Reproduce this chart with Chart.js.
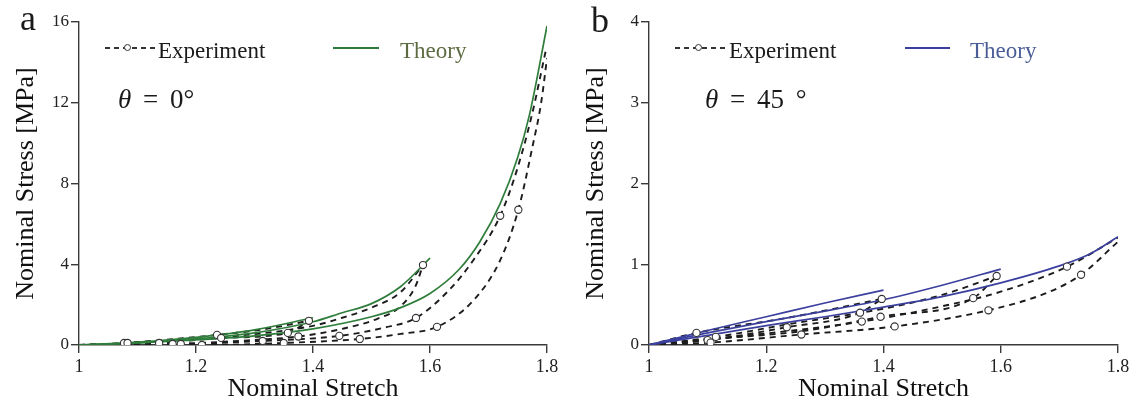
<!DOCTYPE html>
<html>
<head>
<meta charset="utf-8">
<script src="https://cdn.jsdelivr.net/npm/chart.js"></script>
<style>
  body { margin: 0; background: #fff; width: 1139px; height: 403px; overflow: hidden; position: relative; font-family: "Liberation Serif", "Times New Roman", serif; color: #1a1a1a; }
  .panel { position: absolute; top: 0; height: 403px; }
  .panel canvas { position: absolute; left: 0; top: 0; }
  .tag { position: absolute; font-size: 36px; line-height: 36px; }
  .lbl { position: absolute; font-size: 23px; line-height: 23px; white-space: nowrap; }
  .dash { position: absolute; height: 1.6px; background: repeating-linear-gradient(90deg, #333 0 5px, transparent 5px 9px); }
  .dot { position: absolute; width: 5px; height: 5px; border: 1.2px solid #333; border-radius: 50%; background: #fff; }
  .solid { position: absolute; height: 0; border-top: 2px solid; }
  .theta { position: absolute; font-size: 27px; line-height: 27px; white-space: nowrap; word-spacing: 5px; }
</style>
</head>
<body>

<div class="panel" id="panelA" style="left:0;width:570px">
  <canvas id="chartA" width="570" height="403"></canvas>
  <div class="tag" style="left:20px;top:0px">a</div>
  <div class="dash" style="left:105px;top:47px;width:50px"></div>
  <div class="dot" style="left:124px;top:44px"></div>
  <div class="lbl" style="left:158px;top:39px">Experiment</div>
  <div class="solid" style="left:333px;top:47px;width:46px;border-color:#2f7d3b"></div>
  <div class="lbl" style="left:400px;top:39px;color:#5d6b42">Theory</div>
  <div class="theta" style="left:118px;top:86px"><i>θ</i> = 0°</div>
</div>

<div class="panel" id="panelB" style="left:570px;width:569px">
  <canvas id="chartB" width="569" height="403"></canvas>
  <div class="tag" style="left:21px;top:2px">b</div>
  <div class="dash" style="left:105px;top:47px;width:50px"></div>
  <div class="dot" style="left:125px;top:44px"></div>
  <div class="lbl" style="left:159px;top:39px">Experiment</div>
  <div class="solid" style="left:335px;top:47px;width:45px;border-color:#3b3f9e"></div>
  <div class="lbl" style="left:400px;top:39px;color:#4b5d97">Theory</div>
  <div class="theta" style="left:135px;top:86px"><i>θ</i> = 45 °</div>
</div>

<script>
// axis ticks
const stretchTicks = [1, 1.2, 1.4, 1.6, 1.8]
const stressTicksA = [0, 4, 8, 12, 16]
const stressTicksB = [0, 1, 2, 3, 4]

// ---- panel a : theta = 0 deg  ([stretch, stress MPa]) ----
const theoryA1 = [[1,0],[1.1,0.14],[1.2,0.38],[1.3,0.75],[1.4,1.35]]
const theoryA2 = [[1,0],[1.1,0.11],[1.2,0.3],[1.3,0.6],[1.4,1.15],[1.45,1.6],[1.5,2.05],[1.55,2.9],[1.6,4.3]]
const theoryA3 = [[1,0],[1.1,0.1],[1.2,0.25],[1.3,0.45],[1.4,0.8],[1.5,1.4],[1.55,1.85],[1.6,2.55],[1.65,3.75],[1.685,5.1],[1.72,7.0],[1.75,9.3],[1.77,11.4],[1.8,15.8]]

const expA1 = [[1,0],[1.077,0.1],[1.236,0.5],[1.32,0.8],[1.393,1.2]]
const expA2 = [[1,0],[1.137,0.1],[1.243,0.35],[1.357,0.6],[1.393,1.2]]
const expA3 = [[1,0],[1.083,0.08],[1.25,0.4],[1.4,0.95],[1.45,1.35],[1.5,1.85],[1.549,2.6],[1.588,3.96]]
const expA4 = [[1,0],[1.16,0.05],[1.3,0.25],[1.375,0.42],[1.45,0.8],[1.51,1.3],[1.549,1.9],[1.575,2.9],[1.588,3.96]]
const expA5 = [[1,0],[1.174,0.05],[1.314,0.2],[1.445,0.45],[1.52,0.85],[1.576,1.34],[1.632,2.7],[1.674,4.2],[1.72,6.4],[1.75,8.8],[1.775,11.5],[1.798,14.6]]
const expA6 = [[1,0],[1.21,0],[1.35,0.1],[1.48,0.3],[1.55,0.55],[1.612,0.9],[1.674,2.2],[1.72,4.2],[1.751,6.7],[1.775,9.8],[1.79,12],[1.8,14.2]]

// measured points drawn as open circles
const circlesA = [[1.077,0.1],[1.236,0.5],[1.393,1.2],[1.137,0.1],[1.243,0.35],[1.357,0.6],[1.083,0.1],[1.588,3.96],
  [1.16,0.05],[1.375,0.42],[1.174,0.05],[1.314,0.2],[1.445,0.45],[1.576,1.34],[1.72,6.4],
  [1.21,0],[1.35,0.1],[1.48,0.3],[1.612,0.9],[1.751,6.7]]

// ---- panel b : theta = 45 deg ----
const theoryB1 = [[1,0],[1.1,0.18],[1.2,0.35],[1.3,0.52],[1.4,0.68]]
const theoryB2 = [[1,0],[1.1,0.15],[1.2,0.29],[1.3,0.42],[1.4,0.56],[1.5,0.74],[1.6,0.94]]
const theoryB3 = [[1,0],[1.1,0.12],[1.2,0.24],[1.3,0.35],[1.4,0.47],[1.5,0.6],[1.6,0.77],[1.7,0.98],[1.75,1.12],[1.8,1.34]]

const expB1 = [[1,0],[1.081,0.15],[1.239,0.34],[1.397,0.57]]
const expB2 = [[1,0],[1.1,0.06],[1.235,0.22],[1.36,0.4],[1.397,0.57]]
const expB3 = [[1,0],[1.114,0.1],[1.24,0.26],[1.4,0.45],[1.5,0.62],[1.593,0.855]]
const expB4 = [[1,0],[1.12,0.08],[1.26,0.17],[1.395,0.35],[1.553,0.58],[1.593,0.855]]
const expB5 = [[1,0],[1.13,0.09],[1.363,0.29],[1.5,0.48],[1.6,0.66],[1.713,0.97],[1.8,1.33]]
const expB6 = [[1,0],[1.105,0.03],[1.26,0.13],[1.419,0.23],[1.579,0.43],[1.68,0.65],[1.737,0.87],[1.8,1.28]]

const circlesB = [[1.081,0.15],[1.397,0.57],[1.1,0.06],[1.235,0.22],[1.36,0.4],[1.114,0.1],[1.593,0.855],
  [1.395,0.35],[1.553,0.58],[1.363,0.29],[1.713,0.97],
  [1.105,0.03],[1.26,0.13],[1.419,0.23],[1.579,0.43],[1.737,0.87]]

const SERIF = '"Liberation Serif", "Times New Roman", serif'
const AXIS = '#3a3a3a'

const toXY = (arr) => arr.map(p => ({ x: p[0], y: p[1] }))

const theorySet = (arr, color) => ({
    data: toXY(arr),
    borderColor: color,
    borderWidth: 1.7,
    pointRadius: 0,
    cubicInterpolationMode: 'monotone',
    order: 2
})

const expSet = (arr) => ({
    data: toXY(arr),
    borderColor: '#1c1c1c',
    borderWidth: 1.9,
    borderDash: [6, 5],
    pointRadius: 0,
    cubicInterpolationMode: 'monotone',
    order: 3
})

const circleSet = (arr) => ({
    data: toXY(arr),
    showLine: false,
    pointRadius: 3.6,
    pointBackgroundColor: '#fff',
    pointBorderColor: '#333',
    pointBorderWidth: 1.1,
    order: 1
})

const makeChart = (id, theories, exps, circles, color, yTicks, rightPad) => {
    const ctx = document.getElementById(id).getContext('2d')
    const datasets = []
    exps.forEach(e => datasets.push(expSet(e)))
    theories.forEach(t => datasets.push(theorySet(t, color)))
    datasets.push(circleSet(circles))

    return new Chart(ctx, {
        type: 'line',
        data: { datasets: datasets },
        options: {
            responsive: false,
            animation: false,
            events: [],
            layout: { padding: { top: 22, right: rightPad, left: 0, bottom: 0 } },
            plugins: { legend: { display: false }, tooltip: { enabled: false } },
            scales: {
                x: {
                    type: 'linear',
                    min: stretchTicks[0],
                    max: stretchTicks[stretchTicks.length - 1],
                    afterBuildTicks: s => { s.ticks = stretchTicks.map(v => ({ value: v })) },
                    ticks: {
                        callback: v => v === 1 ? '1' : v.toFixed(1),
                        font: { family: SERIF, size: 18 },
                        color: '#222',
                        padding: 3,
                        maxRotation: 0
                    },
                    grid: { drawOnChartArea: false, tickLength: 8, color: AXIS, lineWidth: 1.4 },
                    border: { color: AXIS, width: 1.4 },
                    title: {
                        display: true,
                        text: 'Nominal Stretch',
                        font: { family: SERIF, size: 26, lineHeight: 1 },
                        color: '#111',
                        padding: { top: 0, bottom: 1 }
                    },
                    afterFit: s => { s.height = 58 }
                },
                y: {
                    type: 'linear',
                    min: yTicks[0],
                    max: yTicks[yTicks.length - 1],
                    afterBuildTicks: s => { s.ticks = yTicks.map(v => ({ value: v })) },
                    ticks: {
                        font: { family: SERIF, size: 17 },
                        color: '#222',
                        padding: 2
                    },
                    grid: { drawOnChartArea: false, tickLength: 8, color: AXIS, lineWidth: 1.4 },
                    border: { color: AXIS, width: 1.4 },
                    title: {
                        display: true,
                        text: 'Nominal Stress [MPa]',
                        font: { family: SERIF, size: 26, lineHeight: 1 },
                        color: '#111',
                        padding: { top: 13, bottom: 0 }
                    },
                    afterFit: s => { s.width = 79 }
                }
            }
        }
    })
}

window.onload = () => {
    makeChart('chartA', [theoryA1, theoryA2, theoryA3], [expA1, expA2, expA3, expA4, expA5, expA6], circlesA, '#2f7d3b', stressTicksA, 23)
    makeChart('chartB', [theoryB1, theoryB2, theoryB3], [expB1, expB2, expB3, expB4, expB5, expB6], circlesB, '#3b3f9e', stressTicksB, 21)
}
</script>
</body>
</html>
